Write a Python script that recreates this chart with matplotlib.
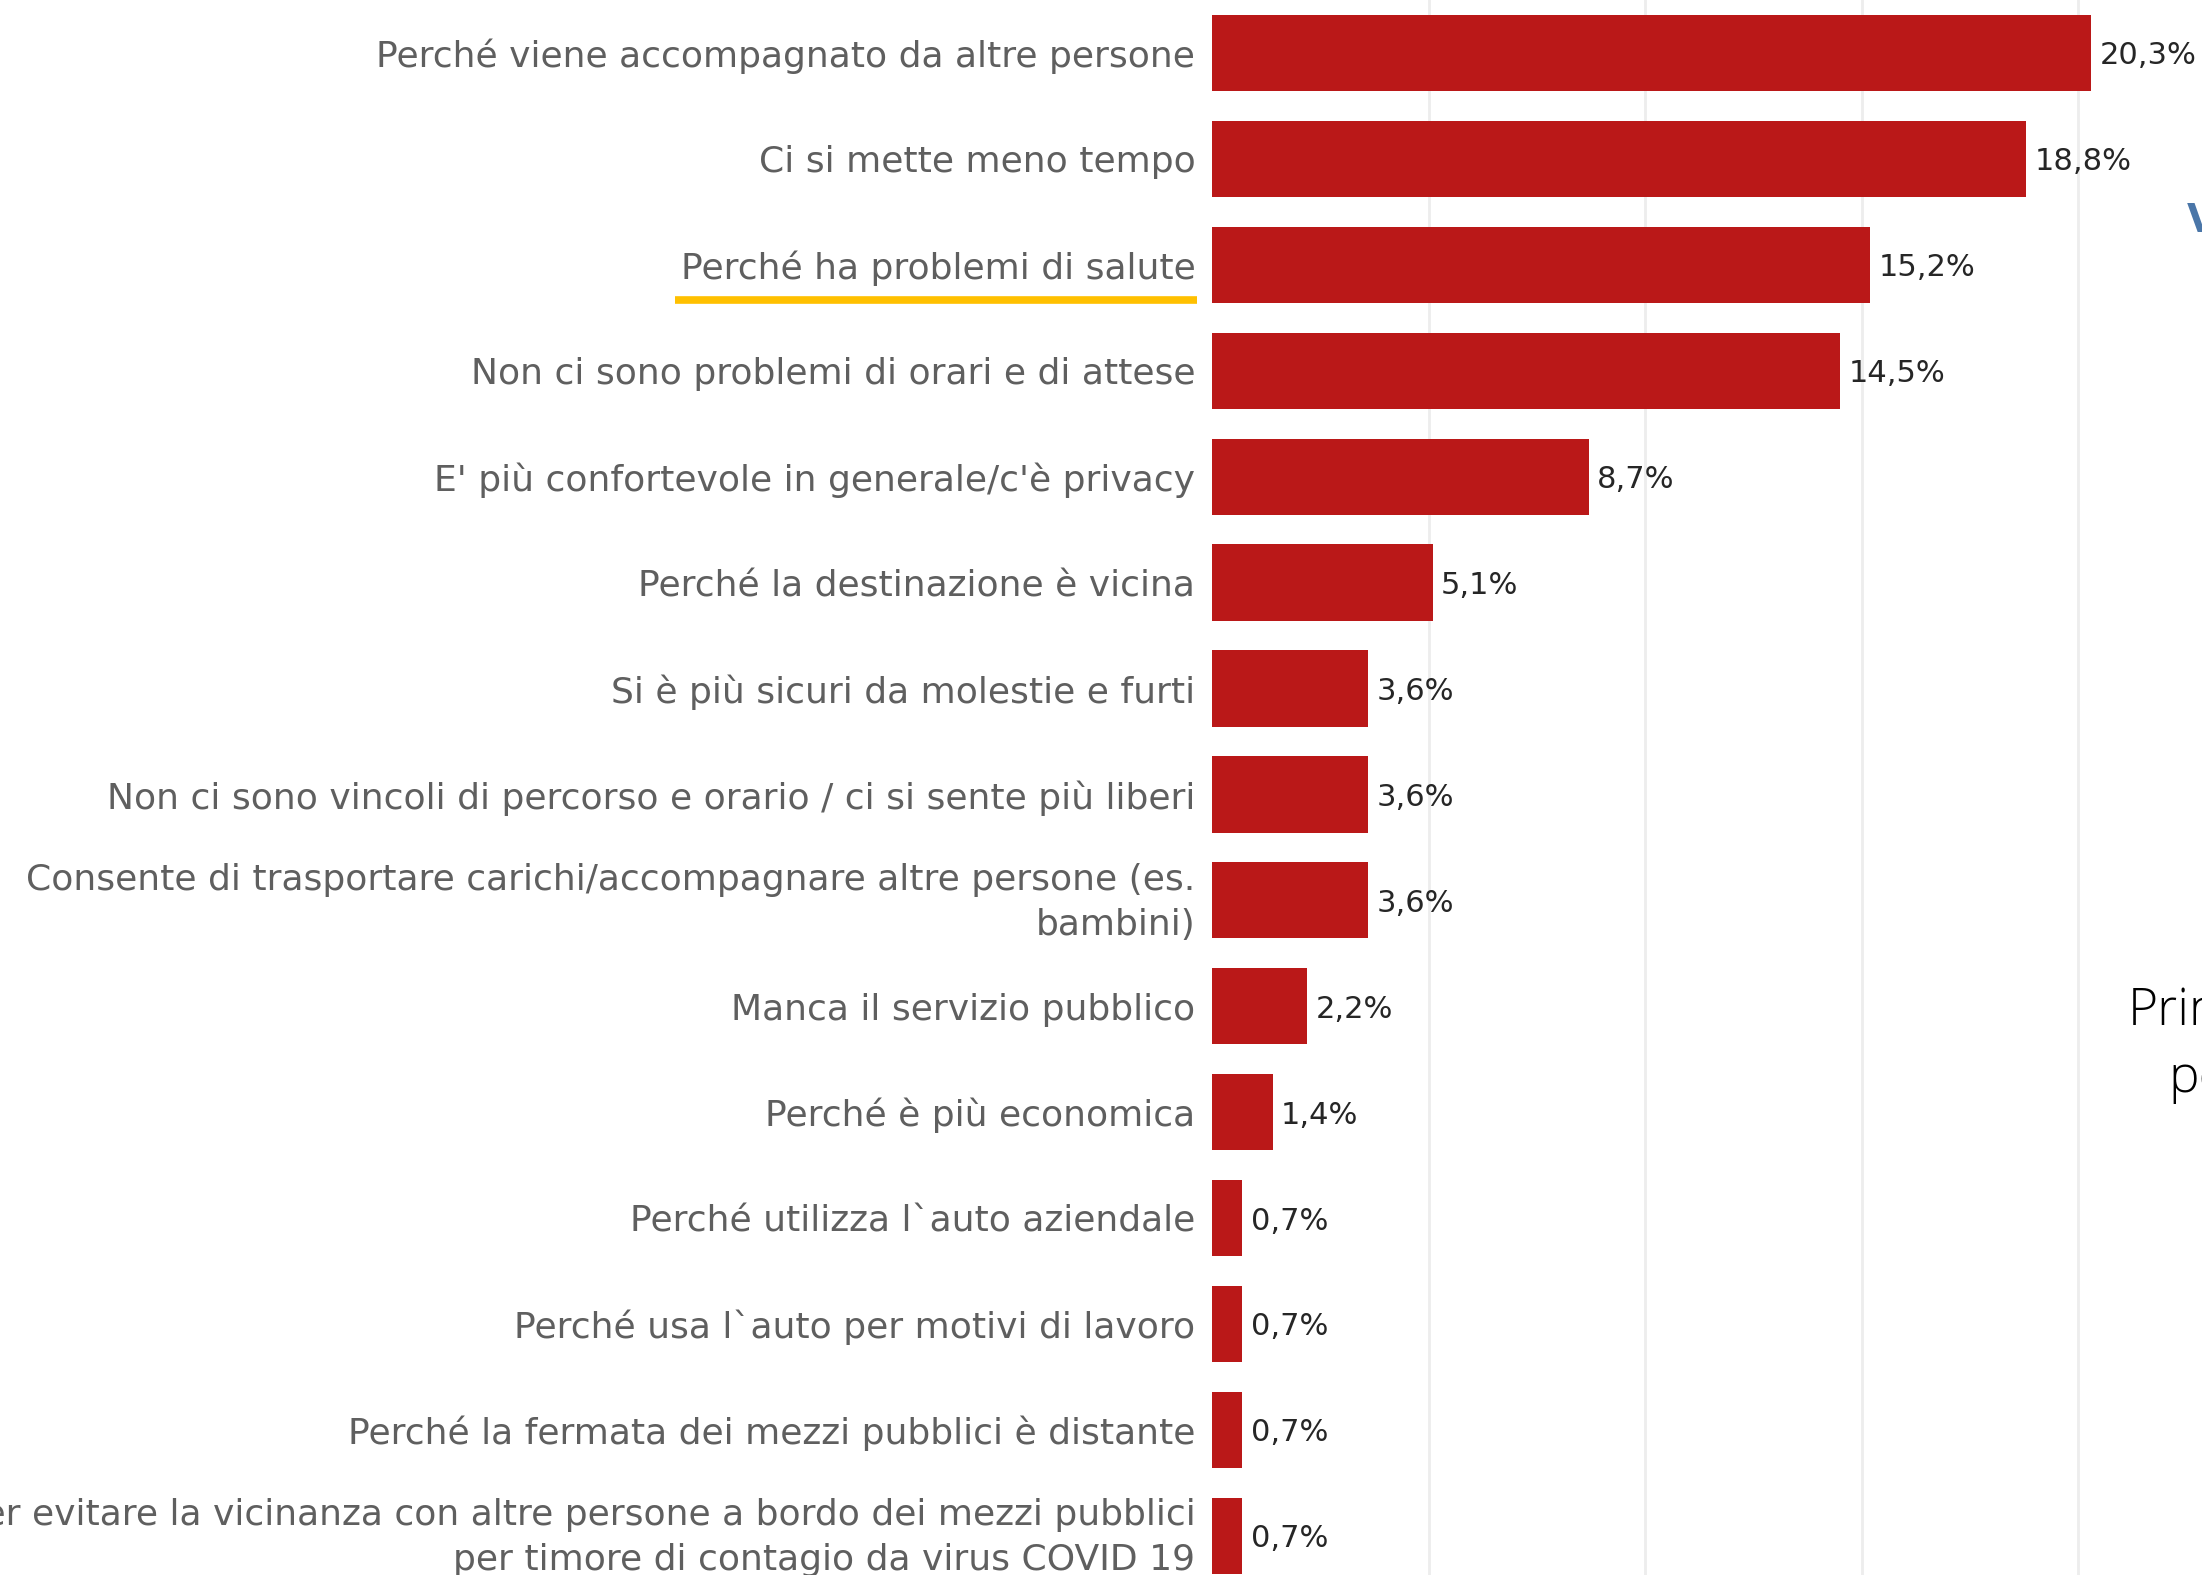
import matplotlib
matplotlib.use("Agg")
import matplotlib.pyplot as plt
import matplotlib.transforms as mtransforms
from matplotlib.lines import Line2D

# Motivi di scelta (in ordine come nel grafico, dall'alto)
motivi = [
    "Perché viene accompagnato da altre persone",
    "Ci si mette meno tempo",
    "Perché ha problemi di salute",
    "Non ci sono problemi di orari e di attese",
    "E' più confortevole in generale/c'è privacy",
    "Perché la destinazione è vicina",
    "Si è più sicuri da molestie e furti",
    "Non ci sono vincoli di percorso e orario / ci si sente più liberi",
    "Consente di trasportare carichi/accompagnare altre persone (es.\nbambini)",
    "Manca il servizio pubblico",
    "Perché è più economica",
    "Perché utilizza l`auto aziendale",
    "Perché usa l`auto per motivi di lavoro",
    "Perché la fermata dei mezzi pubblici è distante",
    "Per evitare la vicinanza con altre persone a bordo dei mezzi pubblici\nper timore di contagio da virus COVID 19",
]
percentuali = [20.3, 18.8, 15.2, 14.5, 8.7, 5.1, 3.6, 3.6, 3.6, 2.2, 1.4, 0.7, 0.7, 0.7, 0.7]
etichette = [f"{v:.1f}%".replace(".", ",") for v in percentuali]
evidenziato = "Perché ha problemi di salute"

plt.rcParams['font.family'] = ['DejaVu Sans']

fig = plt.figure(figsize=(22.02, 15.75), dpi=100)
ax = fig.add_axes([0.5504, 0.0, 0.4496, 1.0])

pos = list(range(len(motivi)))
ax.barh(pos, percentuali, height=0.72, color='#BA1818', zorder=3)

for y, v, lab in zip(pos, percentuali, etichette):
    ax.annotate(lab, (v, y), xytext=(6, 0), textcoords='offset points',
                va='center_baseline', ha='left', fontsize=22, color='#262626')

ax.set_yticks(pos)
ax.set_yticklabels(motivi, fontsize=26, color='#5f5f5f', linespacing=1.4)
ax.tick_params(axis='y', length=0, pad=12)
ax.set_ylim(14.37, -0.5)
ax.set_xlim(0, 22.86)
ax.set_xticks([5, 10, 15, 20])
ax.tick_params(axis='x', length=0, labelbottom=False)
ax.grid(axis='x', color='#ededed', linewidth=2, zorder=0)
for s in ax.spines.values():
    s.set_visible(False)

# le etichette su due righe stanno un po' più in alto
su = mtransforms.ScaledTranslation(0, 5 / 72, fig.dpi_scale_trans)
for tl in ax.get_yticklabels():
    if "\n" in tl.get_text():
        tl.set_transform(tl.get_transform() + su)

# sottolineatura gialla sotto la voce evidenziata
fig.canvas.draw()
renderer = fig.canvas.get_renderer()
for tl in ax.get_yticklabels():
    if tl.get_text() == evidenziato:
        bb = tl.get_window_extent(renderer)
        W, H = fig.bbox.width, fig.bbox.height
        yline = (bb.y0 - 14) / H
        fig.add_artist(Line2D([(bb.x0 - 6) / W, (bb.x1 + 2) / W], [yline, yline],
                              color='#FFC000', linewidth=5.5, solid_capstyle='butt'))

# frammenti di altri elementi della slide, tagliati dal bordo
fig.text(2128 / 2202, 1 - 1011 / 1575, "Prin", fontsize=37, color='black',
         ha='left', va='center', family=['Open Sans'], fontweight='light')
fig.text(2168 / 2202, 1 - 1078 / 1575, "pe", fontsize=37, color='black',
         ha='left', va='center', family=['Open Sans'], fontweight='light')
fig.text(2187 / 2202, 1 - 202 / 1575, "V", fontsize=28, color='#4A76A8',
         ha='left', va='top', fontweight='bold')

fig.savefig("out.png", dpi=100)
